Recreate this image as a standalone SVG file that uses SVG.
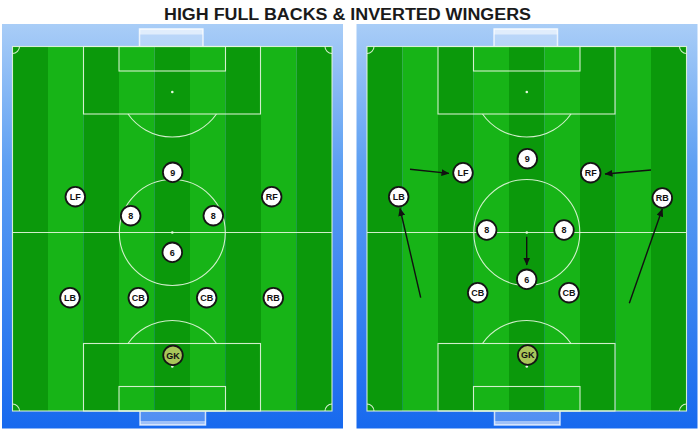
<svg xmlns="http://www.w3.org/2000/svg" xmlns:xlink="http://www.w3.org/1999/xlink" width="700" height="429" viewBox="0 0 700 429">
<style>
.line{fill:none;stroke:#e6f7df;stroke-width:1.1;stroke-opacity:0.9}
.spot{fill:#e6f7df}
.dark{fill:#0b990b}
.light{fill:#17b417}
.node circle{fill:#ffffff;stroke:#151515;stroke-width:1.8}
.node text{font-family:"Liberation Sans",Arial,sans-serif;font-weight:bold;font-size:9px;fill:#111;text-anchor:middle}
.gk circle{fill:#a8c65a}
.conn line{stroke:#111;stroke-width:1.4;marker-end:url(#ah)}
.goal{fill:#ffffff;fill-opacity:0.25;stroke:#ffffff;stroke-opacity:0.75;stroke-width:1.5}
</style>
<defs>
<linearGradient id="bg" x1="0" y1="0" x2="0" y2="1">
<stop offset="0" stop-color="#a9cdf7"/>
<stop offset="0.35" stop-color="#5d9ff3"/>
<stop offset="1" stop-color="#1769ee"/>
</linearGradient>
<marker id="ah" markerUnits="userSpaceOnUse" markerWidth="8" markerHeight="7" refX="7.5" refY="3.5" orient="auto">
<path d="M0,0 L8,3.5 L0,7 z" fill="#111"/>
</marker>
<g id="pitch">
<rect x="2" y="24" width="341" height="404.5" fill="url(#bg)"/>
<path class="goal" d="M139.5,46 V29 H203 V46"/>
<rect x="139.5" y="28.5" width="63.5" height="6" fill="#ffffff" fill-opacity="0.55"/>
<path class="goal" d="M140,411 V425 H205.5 V411"/>
<rect x="140" y="421" width="65.5" height="4" fill="#ffffff" fill-opacity="0.45"/>
<rect class="dark" x="12.5" y="46.5" width="35.5" height="364.5"/>
<rect class="light" x="48" y="46.5" width="35.5" height="364.5"/>
<rect class="dark" x="83.5" y="46.5" width="35.5" height="364.5"/>
<rect class="light" x="119" y="46.5" width="35.5" height="364.5"/>
<rect class="dark" x="154.5" y="46.5" width="35.5" height="364.5"/>
<rect class="light" x="190" y="46.5" width="35.5" height="364.5"/>
<rect class="dark" x="225.5" y="46.5" width="35.5" height="364.5"/>
<rect class="light" x="261" y="46.5" width="35.5" height="364.5"/>
<rect class="dark" x="296.5" y="46.5" width="35.5" height="364.5"/>
<rect class="line" x="12.5" y="46.5" width="319.5" height="364.5"/>
<line class="line" x1="12.5" y1="232.5" x2="332" y2="232.5"/>
<circle class="line" cx="172.3" cy="232.5" r="53"/>
<circle class="spot" cx="172.3" cy="232.5" r="1.3"/>
<rect class="line" x="83.5" y="46.5" width="177" height="67.5"/>
<rect class="line" x="119" y="46.5" width="106.5" height="24.5"/>
<circle class="spot" cx="172.3" cy="92" r="1.3"/>
<path class="line" d="M128,114 A54,54 0 0 0 216.5,114"/>
<rect class="line" x="83.5" y="343.5" width="177" height="67.5"/>
<rect class="line" x="119" y="386.5" width="106.5" height="24.5"/>
<circle class="spot" cx="172.3" cy="366.5" r="1.3"/>
<path class="line" d="M128,343.5 A54,54 0 0 1 216.5,343.5"/>
<path class="line" d="M12.5,53.5 A7,7 0 0 0 19.5,46.5"/>
<path class="line" d="M325,46.5 A7,7 0 0 0 332,53.5"/>
<path class="line" d="M12.5,404 A7,7 0 0 1 19.5,411"/>
<path class="line" d="M325,411 A7,7 0 0 1 332,404"/>
</g>
</defs>
<rect width="700" height="429" fill="#ffffff"/>
<text x="347.5" y="20" font-family="'Liberation Sans',Arial,sans-serif" font-weight="bold" font-size="16" fill="#1a1a1a" text-anchor="middle" textLength="367" lengthAdjust="spacingAndGlyphs">HIGH FULL BACKS &amp; INVERTED WINGERS</text>
<use id="pitch-left" xlink:href="#pitch" href="#pitch"/>
<use id="pitch-right" xlink:href="#pitch" href="#pitch" transform="translate(354.5,0)"/>
<g id="connectors" class="conn">
<line x1="410" y1="169.3" x2="449" y2="173.4"/>
<line x1="651" y1="170" x2="605" y2="174"/>
<line x1="420.7" y1="297.7" x2="400" y2="208.5"/>
<line x1="629.3" y1="303.3" x2="662.3" y2="209"/>
<line x1="526.7" y1="236.7" x2="526.7" y2="265"/>
</g>
<g id="l-9" class="node"><circle cx="172.7" cy="172.3" r="9.8"/><text x="172.7" y="175.5">9</text></g>
<g id="l-lf" class="node"><circle cx="75.3" cy="196.7" r="9.8"/><text x="75.3" y="199.9">LF</text></g>
<g id="l-rf" class="node"><circle cx="271.7" cy="196.7" r="9.8"/><text x="271.7" y="199.9">RF</text></g>
<g id="l-8a" class="node"><circle cx="130.7" cy="215.7" r="9.8"/><text x="130.7" y="218.9">8</text></g>
<g id="l-8b" class="node"><circle cx="213.3" cy="215.7" r="9.8"/><text x="213.3" y="218.9">8</text></g>
<g id="l-6" class="node"><circle cx="172.3" cy="252.3" r="9.8"/><text x="172.3" y="255.5">6</text></g>
<g id="l-lb" class="node"><circle cx="70" cy="297.7" r="9.8"/><text x="70" y="300.9">LB</text></g>
<g id="l-cb1" class="node"><circle cx="138.3" cy="297.7" r="9.8"/><text x="138.3" y="300.9">CB</text></g>
<g id="l-cb2" class="node"><circle cx="206.7" cy="297.7" r="9.8"/><text x="206.7" y="300.9">CB</text></g>
<g id="l-rb" class="node"><circle cx="273.3" cy="297.7" r="9.8"/><text x="273.3" y="300.9">RB</text></g>
<g id="l-gk" class="node gk"><circle cx="173" cy="355.3" r="9.8"/><text x="173" y="358.5">GK</text></g>
<g id="r-9" class="node"><circle cx="527.3" cy="158.7" r="9.8"/><text x="527.3" y="161.9">9</text></g>
<g id="r-lf" class="node"><circle cx="463" cy="172.7" r="9.8"/><text x="463" y="175.9">LF</text></g>
<g id="r-rf" class="node"><circle cx="590.7" cy="172.7" r="9.8"/><text x="590.7" y="175.9">RF</text></g>
<g id="r-lb" class="node"><circle cx="398.7" cy="196.7" r="9.8"/><text x="398.7" y="199.9">LB</text></g>
<g id="r-rb" class="node"><circle cx="662.3" cy="198" r="9.8"/><text x="662.3" y="201.2">RB</text></g>
<g id="r-8a" class="node"><circle cx="486.7" cy="230" r="9.8"/><text x="486.7" y="233.2">8</text></g>
<g id="r-8b" class="node"><circle cx="564" cy="230" r="9.8"/><text x="564" y="233.2">8</text></g>
<g id="r-6" class="node"><circle cx="526.7" cy="279.3" r="9.8"/><text x="526.7" y="282.5">6</text></g>
<g id="r-cb1" class="node"><circle cx="477.7" cy="292.7" r="9.8"/><text x="477.7" y="295.9">CB</text></g>
<g id="r-cb2" class="node"><circle cx="569" cy="292.7" r="9.8"/><text x="569" y="295.9">CB</text></g>
<g id="r-gk" class="node gk"><circle cx="527.7" cy="355" r="9.8"/><text x="527.7" y="358.2">GK</text></g>
</svg>
